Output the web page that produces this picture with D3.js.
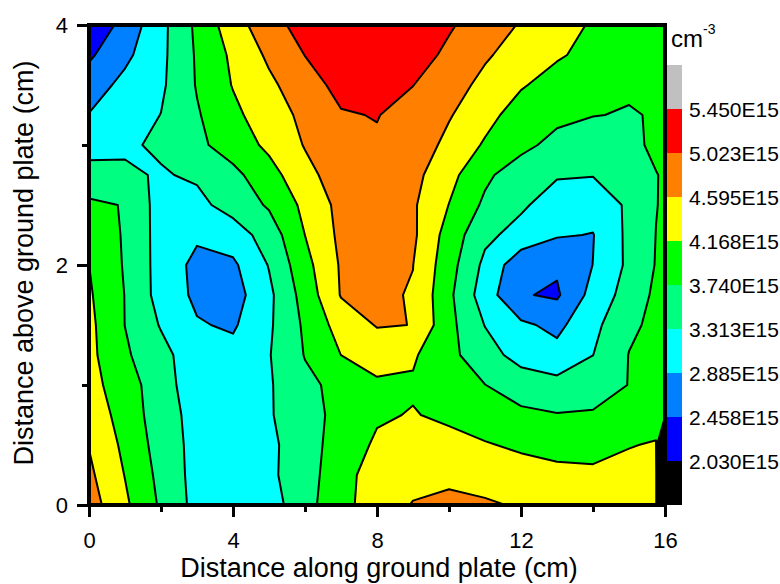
<!DOCTYPE html>
<html>
<head>
<meta charset="utf-8">
<script src="https://cdn.jsdelivr.net/npm/d3@7/dist/d3.min.js"></script>
<style>
  html, body { margin: 0; padding: 0; background: #fff; }
  svg { display: block; }
</style>
</head>
<body>
<svg id="chart" width="780" height="584"></svg>
<script>
// Sample positions of the measurement grid (cm)
const xPositions = [0, 1, 2, 3, 4, 5, 6, 7, 8, 9, 10, 11, 12, 13, 14, 15, 15.75, 16];
const yPositions = [4, 3.75, 3.5, 3.25, 3, 2.75, 2.5, 2.25, 2, 1.75, 1.5, 1.25, 1, 0.75, 0.5, 0.25, 0];

// Electron density in units of 1E15 cm^-3, one row per height (top row = 4 cm)
const density = [
  [2.10, 2.61, 3.19, 3.83, 4.41, 4.85, 5.20, 5.30, 5.35, 5.30, 5.07, 4.82, 4.56, 4.35, 4.12, 4.00, 3.95, 3.95],
  [2.39, 2.79, 3.21, 3.79, 4.25, 4.67, 5.03, 5.20, 5.27, 5.20, 4.94, 4.645, 4.42, 4.214, 4.05, 3.90, 3.87, 3.87],
  [2.68, 3.00, 3.24, 3.77, 4.19, 4.51, 4.84, 5.15, 5.18, 5.03, 4.77, 4.486, 4.207, 4.00, 3.85, 3.78, 3.80, 3.82],
  [2.90, 3.11, 3.32, 3.70, 4.07, 4.40, 4.69, 4.99, 5.04, 4.85, 4.63, 4.305, 3.98, 3.85, 3.75, 3.72, 3.76, 3.78],
  [3.17, 3.26, 3.37, 3.65, 3.93, 4.26, 4.62, 4.85, 4.97, 4.85, 4.48, 4.12, 3.86, 3.60, 3.55, 3.66, 3.80, 3.82],
  [3.45, 3.37, 3.28, 3.37, 3.63, 4.00, 4.47, 4.80, 4.85, 4.72, 4.30, 3.825, 3.50, 3.35, 3.33, 3.50, 3.73, 3.77],
  [3.82, 3.72, 3.13, 3.20, 3.48, 3.79, 4.27, 4.72, 4.78, 4.65, 4.16, 3.66, 3.38, 3.10, 3.05, 3.38, 3.73, 3.78],
  [3.95, 3.71, 3.14, 2.95, 3.10, 3.50, 4.17, 4.69, 4.72, 4.67, 3.99, 3.41, 3.16, 2.92, 2.87, 3.41, 3.745, 3.80],
  [4.17, 3.70, 3.15, 2.77, 2.81, 3.335, 4.03, 4.64, 4.70, 4.60, 3.91, 3.21, 2.60, 2.52, 2.89, 3.40, 3.76, 3.82],
  [4.22, 3.73, 3.15, 2.80, 2.70, 3.22, 3.91, 4.62, 4.66, 4.57, 3.83, 3.09, 2.49, 2.40, 3.035, 3.49, 3.82, 3.84],
  [4.27, 3.735, 3.28, 2.92, 2.83, 3.25, 3.81, 4.35, 4.62, 4.59, 3.86, 3.30, 2.96, 2.78, 3.195, 3.67, 3.82, 3.84],
  [4.28, 3.80, 3.45, 3.05, 3.02, 3.29, 3.76, 4.17, 4.35, 4.22, 3.85, 3.49, 3.15, 3.02, 3.31, 3.75, 3.87, 3.89],
  [4.32, 3.93, 3.51, 3.05, 3.00, 3.27, 3.64, 3.865, 4.10, 4.12, 4.00, 3.745, 3.55, 3.45, 3.55, 3.75, 3.88, 3.92],
  [4.35, 4.05, 3.46, 3.20, 3.10, 3.27, 3.60, 3.85, 4.12, 4.19, 4.09, 3.95, 3.82, 3.76, 3.78, 3.90, 4.00, 4.00],
  [4.58, 4.07, 3.56, 3.17, 3.05, 3.22, 3.55, 3.94, 4.23, 4.32, 4.30, 4.20, 4.10, 4.00, 3.90, 4.15, 4.20, 0],
  [4.68, 4.155, 3.62, 3.16, 3.00, 3.22, 3.58, 3.97, 4.42, 4.45, 4.50, 4.45, 4.35, 4.30, 4.32, 4.30, 4.30, 0],
  [4.79, 4.244, 3.677, 3.173, 3.05, 3.12, 3.586, 4.05, 4.36, 4.62, 4.70, 4.64, 4.56, 4.45, 4.40, 4.35, 4.30, 0]
];

// Contour levels (1E15 cm^-3) and their legend labels
const levels = [2.030, 2.458, 2.885, 3.313, 3.740, 4.168, 4.595, 5.023, 5.450];
const levelLabels = ["2.030E15", "2.458E15", "2.885E15", "3.313E15", "3.740E15",
                     "4.168E15", "4.595E15", "5.023E15", "5.450E15"];
// Fill of each band, from below the lowest level to above the highest
const bandColors = ["#000000", "#0000ff", "#0080ff", "#00ffff", "#00ff80",
                    "#00ff00", "#ffff00", "#ff8000", "#ff0000", "#c0c0c0"];

const xMajor = [0, 4, 8, 12, 16], xMinor = [2, 6, 10, 14];
const yMajor = [0, 2, 4], yMinor = [1, 3];

const FONT = "Arial, 'Liberation Sans', Helvetica, sans-serif";
const plot = { left: 89, right: 665, top: 25, bottom: 505 };

const svg = d3.select("#chart");

const x = d3.scaleLinear().domain([0, 16]).range([plot.left, plot.right]);
const y = d3.scaleLinear().domain([0, 4]).range([plot.bottom, plot.top]);

// grid index -> physical position (piecewise linear over the sample positions)
const nx = xPositions.length, ny = yPositions.length;
const colToX = d3.scaleLinear().domain(d3.range(nx)).range(xPositions);
const rowToY = d3.scaleLinear().domain(d3.range(ny)).range(yPositions);

const values = density.flat();
const floorLevel = Math.floor(d3.min(values)) - 1;
const thresholds = [floorLevel, ...levels];

const contours = d3.contours()
  .size([nx, ny])
  .thresholds(thresholds)
  (values);

// contour grid coordinates put sample i at i + 0.5
const gridProjection = d3.geoTransform({
  point(gx, gy) {
    this.stream.point(x(colToX(gx - 0.5)), y(rowToY(gy - 0.5)));
  }
});
const path = d3.geoPath(gridProjection);

svg.append("defs").append("clipPath").attr("id", "plot-clip")
  .append("rect")
  .attr("x", plot.left).attr("y", plot.top)
  .attr("width", plot.right - plot.left).attr("height", plot.bottom - plot.top);

const field = svg.append("g").attr("clip-path", "url(#plot-clip)");

field.selectAll("path.band")
  .data(contours)
  .join("path")
  .attr("class", "band")
  .attr("d", path)
  .attr("fill", (d, i) => bandColors[i])
  .attr("stroke", "none");

field.selectAll("path.isoline")
  .data(contours.slice(1))
  .join("path")
  .attr("class", "isoline")
  .attr("d", path)
  .attr("fill", "none")
  .attr("stroke", "#000")
  .attr("stroke-width", 2)
  .attr("stroke-linejoin", "round");

// frame
svg.append("rect")
  .attr("x", plot.left).attr("y", plot.top)
  .attr("width", plot.right - plot.left).attr("height", plot.bottom - plot.top)
  .attr("fill", "none").attr("stroke", "#000").attr("stroke-width", 4);

function styleAxis(g) {
  g.select(".domain").remove();
  g.attr("font-family", FONT).attr("font-size", 22);
  g.selectAll("line").attr("stroke", "#000").attr("stroke-width", 3);
  g.selectAll("text").attr("fill", "#000");
}

// x axis
svg.append("g").attr("transform", `translate(0,${plot.bottom})`)
  .call(d3.axisBottom(x).tickValues(xMajor).tickSize(12).tickPadding(15).tickFormat(d3.format("d")))
  .call(styleAxis);
svg.append("g").attr("transform", `translate(0,${plot.bottom})`)
  .call(d3.axisBottom(x).tickValues(xMinor).tickSize(7).tickFormat(""))
  .call(styleAxis);

// y axis
svg.append("g").attr("transform", `translate(${plot.left},0)`)
  .call(d3.axisLeft(y).tickValues(yMajor).tickSize(12).tickPadding(9).tickFormat(d3.format("d")))
  .call(styleAxis);
svg.append("g").attr("transform", `translate(${plot.left},0)`)
  .call(d3.axisLeft(y).tickValues(yMinor).tickSize(7).tickFormat(""))
  .call(styleAxis);

// axis titles
svg.append("text")
  .attr("x", (plot.left + plot.right) / 2 + 2).attr("y", 577)
  .attr("text-anchor", "middle")
  .attr("font-family", FONT).attr("font-size", 27).attr("fill", "#000")
  .text("Distance along ground plate (cm)");

svg.append("text")
  .attr("transform", `translate(33,${(plot.top + plot.bottom) / 2 - 2}) rotate(-90)`)
  .attr("text-anchor", "middle")
  .attr("font-family", FONT).attr("font-size", 27).attr("fill", "#000")
  .text("Distance above ground plate (cm)");

// colour bar
const bar = { x: 667, width: 15, top: 65, bottom: 505 };
const cb = d3.scaleLinear().domain([0, bandColors.length]).range([bar.bottom, bar.top]);

svg.append("g").selectAll("rect")
  .data(bandColors)
  .join("rect")
  .attr("x", bar.x)
  .attr("y", (d, i) => cb(i + 1))
  .attr("width", bar.width)
  .attr("height", (d, i) => cb(i) - cb(i + 1))
  .attr("fill", d => d);

svg.append("g").selectAll("text")
  .data(levelLabels)
  .join("text")
  .attr("x", 689)
  .attr("y", (d, i) => cb(i + 1))
  .attr("dy", "0.36em")
  .attr("font-family", FONT).attr("font-size", 21).attr("fill", "#000")
  .text(d => d);

const unit = svg.append("text")
  .attr("x", 671).attr("y", 47)
  .attr("font-family", FONT).attr("font-size", 24).attr("fill", "#000");
unit.append("tspan").text("cm");
unit.append("tspan").attr("font-size", 14).attr("dy", -13).text("-3");
</script>
</body>
</html>
